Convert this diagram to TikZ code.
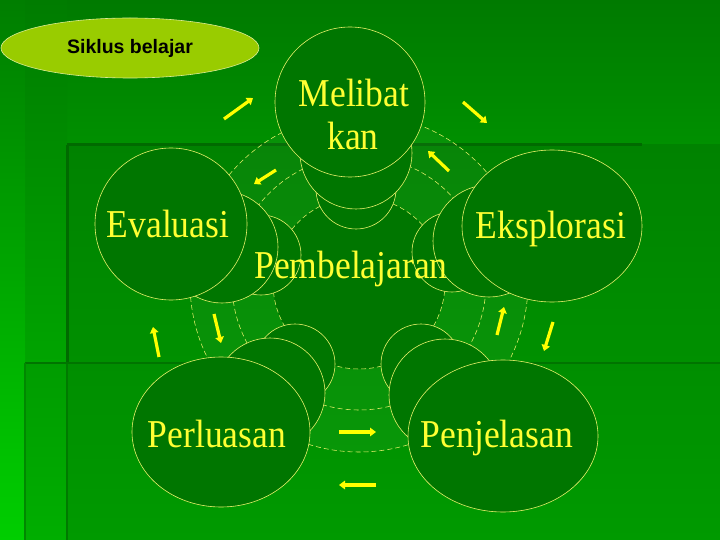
\documentclass[tikz,border=0pt]{standalone}
\usepackage{fontspec}
\usepackage{graphicx}
\setmainfont{Liberation Serif}
\newfontfamily\titlefont{Liberation Sans}
\usetikzlibrary{arrows.meta,shapes.geometric}
\definecolor{circfill}{HTML}{007600}
\definecolor{outl}{HTML}{E6F06A}
\definecolor{txt}{HTML}{FFFF33}
\definecolor{arr}{HTML}{FFFF00}
\definecolor{lineG}{HTML}{006A00}
\definecolor{lineH}{HTML}{007A00}
\definecolor{lineI}{HTML}{007400}
\definecolor{lineJ}{HTML}{008800}
\definecolor{titlefill}{HTML}{99CC00}
\definecolor{titleline}{HTML}{DCEC96}
\definecolor{bgA}{HTML}{007C00}
\definecolor{bgB}{HTML}{009C00}
\definecolor{bgC}{HTML}{007A00}
\definecolor{bgD}{HTML}{009000}
\definecolor{bgE}{HTML}{008200}
\definecolor{bgF}{HTML}{008E00}
\definecolor{bgG}{HTML}{009A00}
\definecolor{bgH}{HTML}{007C00}
\definecolor{bgI}{HTML}{00A400}
\definecolor{bgJ}{HTML}{009C00}
\definecolor{bgK}{HTML}{00AE00}
\definecolor{bgL}{HTML}{007E00}
\definecolor{bgM}{HTML}{00CE00}
\newcommand\sqz[1]{\scalebox{0.9}[1]{#1}}
\tikzset{
 stagecirc/.style={fill=circfill, draw=outl, line width=0.6pt},
 ringline/.style={draw=outl, line width=0.55pt, dash pattern=on 5pt off 3pt},
 lbl/.style={text=txt, font=\fontsize{39.5}{43}\selectfont, inner sep=0pt, anchor=base},
 cyc/.style={draw=arr, line width=3.2pt, -{Triangle[length=6pt,width=8.5pt]}},
}
\begin{document}
\begin{tikzpicture}[x=1pt,y=-1pt]
\useasboundingbox (0,0) rectangle (720,540);
% background
\shade[top color=bgA, bottom color=bgB] (0,0) rectangle (720,540);
\shade[top color=bgC, bottom color=bgD] (67,0) rectangle (720,145);
\shade[top color=bgE, bottom color=bgD] (67,145) rectangle (720,363);
\shade[top color=bgF, bottom color=bgG] (25,363) rectangle (720,540);
\shade[top color=bgH, bottom color=bgI] (25,0) rectangle (67,363);
\shade[top color=bgJ, bottom color=bgK] (25,363) rectangle (67,540);
\shade[top color=bgL, bottom color=bgM] (0,0) rectangle (25,540);
\draw[lineG, line width=3pt] (67,145) -- (642,145);
\draw[lineG, line width=3pt] (67,145) -- (67,363);
\draw[lineH, line width=2pt] (67,363) -- (67,540);
\draw[lineI, line width=2pt] (25,363) -- (720,363);
\draw[lineJ, line width=1.5pt] (25,363) -- (25,540);
% ring
\coordinate (C) at (359,283);
\fill[white, fill opacity=0.03, even odd rule] (C) circle (169) (C) circle (86);
\fill[circfill] (C) circle (86);
\draw[ringline] (C) circle (86) (C) circle (127) (C) circle (169);
% stacks
\draw[stagecirc] (356,189) circle (40);
\draw[stagecirc] (356,153) circle (56);
\draw[stagecirc] (350,102) ellipse [x radius=75, y radius=75];
\draw[stagecirc] (452,252) circle (40);
\draw[stagecirc] (489,241) circle (56);
\draw[stagecirc] (552,226) ellipse [x radius=90, y radius=76];
\draw[stagecirc] (261,255) circle (40);
\draw[stagecirc] (222,247) circle (56);
\draw[stagecirc] (171,224) ellipse [x radius=76, y radius=76];
\draw[stagecirc] (295,364) circle (40);
\draw[stagecirc] (270,393) circle (55);
\draw[stagecirc] (221,432) ellipse [x radius=89, y radius=75];
\draw[stagecirc] (421,364) circle (40);
\draw[stagecirc] (445,395) circle (56);
\draw[stagecirc] (503,436) ellipse [x radius=95, y radius=76];
% labels
\node[lbl] (mel1) at (354,107) {\sqz{Melibat}};
\node[lbl] (mel2) at (353,150) {\sqz{kan}};
\node[lbl] (eva) at (168,237) {\sqz{Evaluasi}};
\node[lbl] (eks) at (551,239) {\sqz{Eksplorasi}};
\node[lbl] (pem) at (351,278) {\sqz{Pembelajaran}};
\node[lbl] (per) at (217,447) {\sqz{Perluasan}};
\node[lbl] (pen) at (497,447) {\sqz{Penjelasan}};
% arrows
\coordinate (a1s) at (224,119); \coordinate (a1e) at (253,98);
\coordinate (a2s) at (463,102); \coordinate (a2e) at (487,123);
\coordinate (a3s) at (276,170); \coordinate (a3e) at (254,184);
\coordinate (a4s) at (449,171); \coordinate (a4e) at (428,151);
\coordinate (a5s) at (159,357); \coordinate (a5e) at (153,327);
\coordinate (a6s) at (214,314); \coordinate (a6e) at (221,343);
\coordinate (a7s) at (497,335); \coordinate (a7e) at (504,307);
\coordinate (a8s) at (553,322); \coordinate (a8e) at (544,351);
\coordinate (a9s) at (339,432); \coordinate (a9e) at (376,432);
\coordinate (a10s) at (376,485); \coordinate (a10e) at (339,485);
\foreach \i in {1,...,10} {\draw[cyc] (a\i s) -- (a\i e);}
% title
\node[ellipse, fill=titlefill, draw=titleline, line width=0.6pt,
  minimum width=258pt, minimum height=60pt, inner sep=0pt,
  font=\titlefont\bfseries\fontsize{19.5}{21}\selectfont] (title) at (130,48) {Siklus belajar};
\end{tikzpicture}
\end{document}
